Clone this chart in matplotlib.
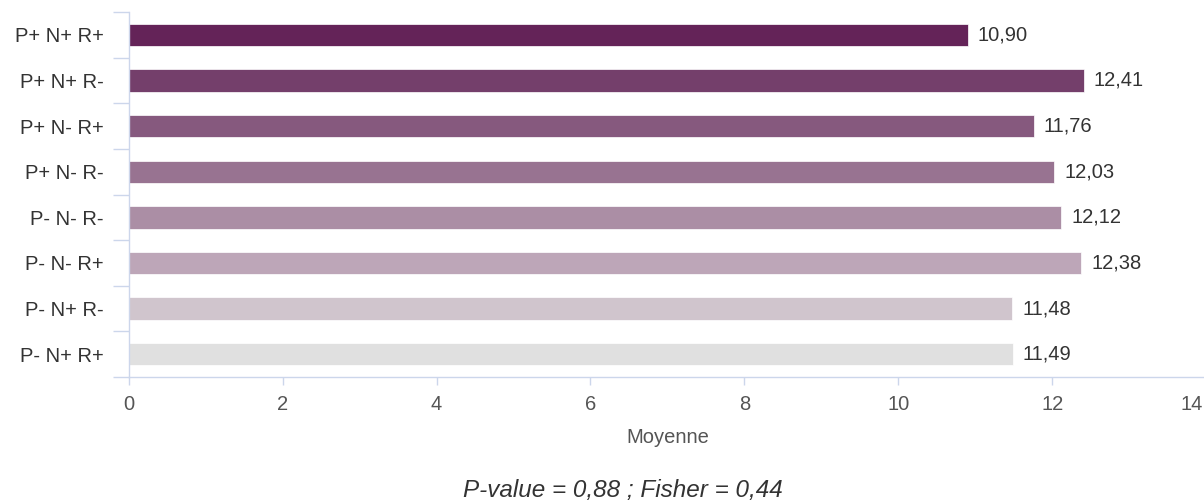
import numpy as np
import matplotlib.pyplot as plt
from matplotlib.transforms import ScaledTranslation

plt.rcParams['font.family'] = ['Liberation Sans', 'DejaVu Sans']

# Données : moyenne par groupe (de haut en bas)
categories = ['P+ N+ R+', 'P+ N+ R-', 'P+ N- R+', 'P+ N- R-',
              'P- N- R-', 'P- N- R+', 'P- N+ R-', 'P- N+ R+']
moyennes = [10.90, 12.41, 11.76, 12.03, 12.12, 12.38, 11.48, 11.49]
couleurs = ['#642358', '#743f6b', '#86597e', '#987391',
            '#ab8ea5', '#bda6b8', '#d0c5cd', '#e0e0e0']
x_ticks = [0, 2, 4, 6, 8, 10, 12, 14]
axis_col = '#ccd6eb'
text_col = '#333333'

fig = plt.figure(figsize=(12.04, 5.01), dpi=100)
ax = fig.add_axes([0.107, 0.2475, 0.8947, 0.7285])

y = np.arange(len(categories))
ax.barh(y, moyennes, height=0.49, color=couleurs, edgecolor='white', linewidth=0.5)

for yi, v in zip(y, moyennes):
    ax.text(v + 0.13, yi, f'{v:.2f}'.replace('.', ','), va='center', ha='left',
            fontsize=14.5, color=text_col)

ax.set_ylim(len(categories) - 0.5, -0.5)
ax.set_xlim(0, 14)
ax.set_yticks(y)
ax.set_yticklabels(categories, fontsize=14.5, color=text_col)
ax.set_yticks(np.arange(len(categories) + 1) - 0.5, minor=True)
ax.tick_params(axis='y', which='major', length=0, pad=18)
ax.tick_params(axis='y', which='minor', length=11.5, width=1, color=axis_col)
ax.set_xticks(x_ticks)
ax.set_xticklabels([str(t) for t in x_ticks], fontsize=14.5, color='#555555')
ax.tick_params(axis='x', length=6, width=1, color=axis_col, pad=7)

# le dernier libellé est calé à droite pour rester dans l'image
last = ax.get_xticklabels()[-1]
last.set_ha('right')
last.set_transform(last.get_transform() + ScaledTranslation(-3 / 100, 0, fig.dpi_scale_trans))

for s in ['top', 'right']:
    ax.spines[s].set_visible(False)
for s in ['left', 'bottom']:
    ax.spines[s].set_color(axis_col)
    ax.spines[s].set_linewidth(1)

ax.set_xlabel('Moyenne', fontsize=14.5, color='#555555', labelpad=10)
fig.text(0.517, 0.02, 'P-value = 0,88 ; Fisher = 0,44', ha='center', va='center',
         fontsize=17.5, style='italic', color=text_col)

fig.savefig('out.png', dpi=100)
